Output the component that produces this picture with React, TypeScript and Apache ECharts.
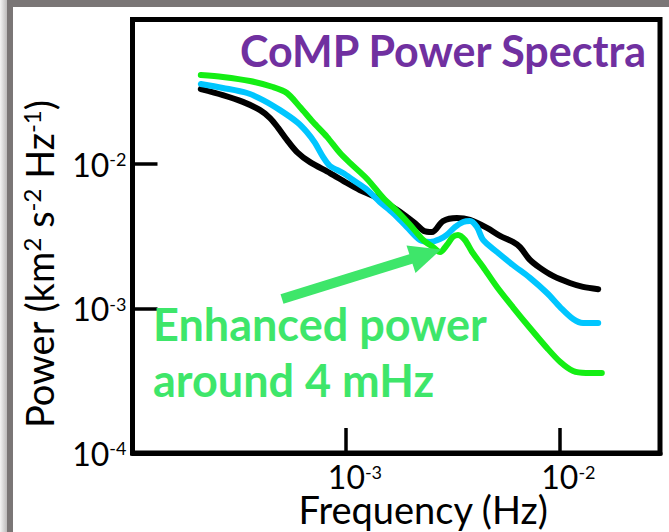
import React, { useEffect, useRef } from "react";
import * as echarts from "echarts";

// Frequency (Hz), power (km^2 s^-2 Hz^-1)
const blackCurve: [number, number][] = [
  [2.09e-4, 3.3e-2], [2.65e-4, 3.0e-2], [3.29e-4, 2.69e-2], [3.96e-4, 2.36e-2],
  [4.41e-4, 2.08e-2], [4.81e-4, 1.78e-2], [5.29e-4, 1.47e-2], [5.9e-4, 1.21e-2],
  [6.79e-4, 1.03e-2], [8.42e-4, 8.66e-3], [1.01e-3, 7.39e-3], [1.16e-3, 6.61e-3],
  [1.37e-3, 5.91e-3], [1.74e-3, 4.8e-3], [2.13e-3, 3.84e-3], [2.32e-3, 3.44e-3],
  [2.53e-3, 3.38e-3], [2.85e-3, 4.03e-3], [3.31e-3, 4.23e-3], [3.81e-3, 4.1e-3],
  [4.58e-3, 3.61e-3], [5.27e-3, 3.18e-3], [6.06e-3, 2.89e-3], [6.54e-3, 2.66e-3],
  [7.28e-3, 2.17e-3], [8.11e-3, 1.91e-3], [9.33e-3, 1.68e-3], [1.12e-2, 1.5e-3],
  [1.29e-2, 1.41e-3], [1.52e-2, 1.36e-3],
];

const cyanCurve: [number, number][] = [
  [2.09e-4, 3.58e-2], [2.65e-4, 3.36e-2], [3.44e-4, 3.1e-2], [4.09e-4, 2.77e-2],
  [4.91e-4, 2.36e-2], [5.9e-4, 1.95e-2], [6.57e-4, 1.66e-2], [7.16e-4, 1.4e-2],
  [7.81e-4, 1.12e-2], [8.42e-4, 9.69e-3], [9.69e-4, 8.66e-3], [1.08e-3, 7.75e-3],
  [1.26e-3, 6.61e-3], [1.44e-3, 5.46e-3], [1.66e-3, 4.58e-3], [1.93e-3, 3.66e-3],
  [2.22e-3, 2.98e-3], [2.48e-3, 2.89e-3], [2.76e-3, 3.03e-3], [2.97e-3, 3.23e-3],
  [3.24e-3, 3.66e-3], [3.54e-3, 3.97e-3], [3.81e-3, 4.03e-3], [4.11e-3, 3.66e-3],
  [4.39e-3, 2.98e-3], [5.1e-3, 2.46e-3], [6.06e-3, 2.0e-3], [7.28e-3, 1.63e-3],
  [8.75e-3, 1.28e-3], [1.01e-2, 1.02e-3], [1.16e-2, 8.46e-4], [1.29e-2, 7.94e-4],
  [1.52e-2, 7.94e-4],
];

const greenCurve: [number, number][] = [
  [2.09e-4, 4.13e-2], [2.65e-4, 4.0e-2], [3.55e-4, 3.75e-2], [4.55e-4, 3.41e-2],
  [5.29e-4, 3.1e-2], [6.09e-4, 2.48e-2], [7.01e-4, 1.95e-2], [8.15e-4, 1.54e-2],
  [9.38e-4, 1.19e-2], [1.05e-3, 1.01e-2], [1.26e-3, 7.85e-3], [1.49e-3, 5.85e-3],
  [1.74e-3, 4.7e-3], [2.0e-3, 3.78e-3], [2.3e-3, 2.98e-3], [2.56e-3, 2.66e-3],
  [2.76e-3, 2.46e-3], [2.97e-3, 2.75e-3], [3.17e-3, 3.13e-3], [3.35e-3, 3.23e-3],
  [3.61e-3, 2.98e-3], [3.9e-3, 2.46e-3], [4.39e-3, 1.94e-3], [5.1e-3, 1.41e-3],
  [6.06e-3, 1.02e-3], [7.28e-3, 7.33e-4], [8.75e-3, 5.33e-4], [1.01e-2, 4.26e-4],
  [1.16e-2, 3.69e-4], [1.33e-2, 3.58e-4], [1.58e-2, 3.58e-4],
];

const X_MIN = 1e-4;
const X_MAX = 0.0296;
const Y_MIN = 1e-4;
const Y_MAX = 1e-1;
const xLabelExponents = [-3, -2];
const yLabelExponents = [-4, -3, -2];

const TITLE = "CoMP Power Spectra";
const NOTE = "Enhanced power\naround 4 mHz";

const FONT = "Lato, 'Open Sans', sans-serif";
const GREEN_TEXT = "#3EE66A";

function expOf(v: number): number | null {
  const l = Math.log10(v);
  const e = Math.round(l);
  return Math.abs(l - e) < 1e-6 ? e : null;
}

const tickRich = {
  b: { fontSize: 32, lineHeight: 28, fontFamily: FONT, color: "#000" },
  s: { fontSize: 18, lineHeight: 16, fontFamily: FONT, color: "#000", verticalAlign: "top" },
};

export default function App() {
  const ref = useRef<HTMLDivElement>(null);
  useEffect(() => {
    const chart = echarts.init(ref.current!, null, { renderer: "svg" });
    const line = (data: [number, number][], color: string, z: number) => ({
      type: "line",
      data,
      showSymbol: false,
      symbol: "none",
      smooth: 0.3,
      z,
      lineStyle: { color, width: 6, cap: "round", join: "round" },
    });
    chart.setOption({
      animation: false,
      backgroundColor: "#fff",
      grid: {
        left: 132.5,
        right: 9,
        top: 19.5,
        bottom: 79,
        show: true,
        borderColor: "#000",
        borderWidth: 5,
        outerBoundsMode: "none",
      },
      xAxis: {
        type: "log",
        logBase: 10,
        min: X_MIN,
        max: X_MAX,
        name: "Frequency (Hz)",
        nameLocation: "middle",
        nameGap: 41,
        nameMoveOverlap: false,
        nameTextStyle: { fontSize: 38, lineHeight: 30, fontFamily: FONT, color: "#000", padding: [0, 0, 0, 54] },
        axisLine: { show: true, lineStyle: { color: "#000", width: 5 } },
        axisTick: { show: true, inside: true, length: 25, lineStyle: { color: "#000", width: 3.5 } },
        splitLine: { show: false },
        axisLabel: {
          margin: 9.5,
          padding: [0, 0, 0, 18],
          formatter: (v: number) => {
            const e = expOf(v);
            if (e === null || !xLabelExponents.includes(e)) return "";
            return `{b|10}{s|${e}}`;
          },
          rich: tickRich,
        },
      },
      yAxis: {
        type: "log",
        logBase: 10,
        min: Y_MIN,
        max: Y_MAX,
        name: "Power (km{s|2} s{s|-2} Hz{s|-1})",
        nameLocation: "middle",
        nameRotate: 90,
        nameGap: 75,
        nameMoveOverlap: false,
        nameTextStyle: {
          fontSize: 38,
          fontFamily: FONT,
          color: "#000",
          padding: [0, 56, 0, 0],
          rich: {
            s: { fontSize: 24, lineHeight: 24, fontFamily: FONT, color: "#000", verticalAlign: "top" },
          },
        },
        axisLine: { show: true, lineStyle: { color: "#000", width: 5 } },
        axisTick: { show: true, inside: true, length: 25, lineStyle: { color: "#000", width: 3.5 } },
        splitLine: { show: false },
        axisLabel: {
          margin: 6,
          formatter: (v: number) => {
            const e = expOf(v);
            if (e === null || !yLabelExponents.includes(e)) return "";
            return `{b|10}{s|${e}}`;
          },
          rich: tickRich,
        },
      },
      series: [
        line(blackCurve, "#000000", 2),
        line(cyanCurve, "#00C6FF", 3),
        line(greenCurve, "#14EE14", 4),
      ],
      graphic: [
        { type: "rect", shape: { x: 0, y: 0, width: 7, height: 532 }, style: { fill: new echarts.graphic.LinearGradient(0, 0, 1, 0, [{ offset: 0, color: "#f4f4f4" }, { offset: 1, color: "#bdbbbb" }]) }, z: 100 },
        { type: "rect", shape: { x: 7, y: 0, width: 6, height: 532 }, style: { fill: "#7a7676" }, z: 100 },
        { type: "rect", shape: { x: 7, y: 0, width: 662, height: 7 }, style: { fill: "#7a7676" }, z: 100 },
        {
          type: "text",
          x: 646,
          y: 50,
          z: 50,
          style: { text: TITLE, fontSize: 43, fontWeight: "bold", fontFamily: FONT, fill: "#7030A0", align: "right", verticalAlign: "middle" },
        },
        {
          type: "text",
          x: 153,
          y: 295.5,
          z: 50,
          style: { text: NOTE, fontSize: 45, lineHeight: 56, fontWeight: "bold", fontFamily: FONT, fill: GREEN_TEXT, align: "left", verticalAlign: "top" },
        },
        {
          type: "line",
          z: 50,
          shape: { x1: 282, y1: 299, x2: 414, y2: 258 },
          style: { stroke: GREEN_TEXT, lineWidth: 10 },
        },
        {
          type: "polygon",
          z: 50,
          shape: { points: [[441, 249.5], [406.5, 245.5], [415.5, 273]] },
          style: { fill: GREEN_TEXT },
        },
      ],
    });
    return () => chart.dispose();
  }, []);
  return <div ref={ref} style={{ position: "fixed", left: 0, top: 0, width: 669, height: 532, background: "#fff" }} />;
}
